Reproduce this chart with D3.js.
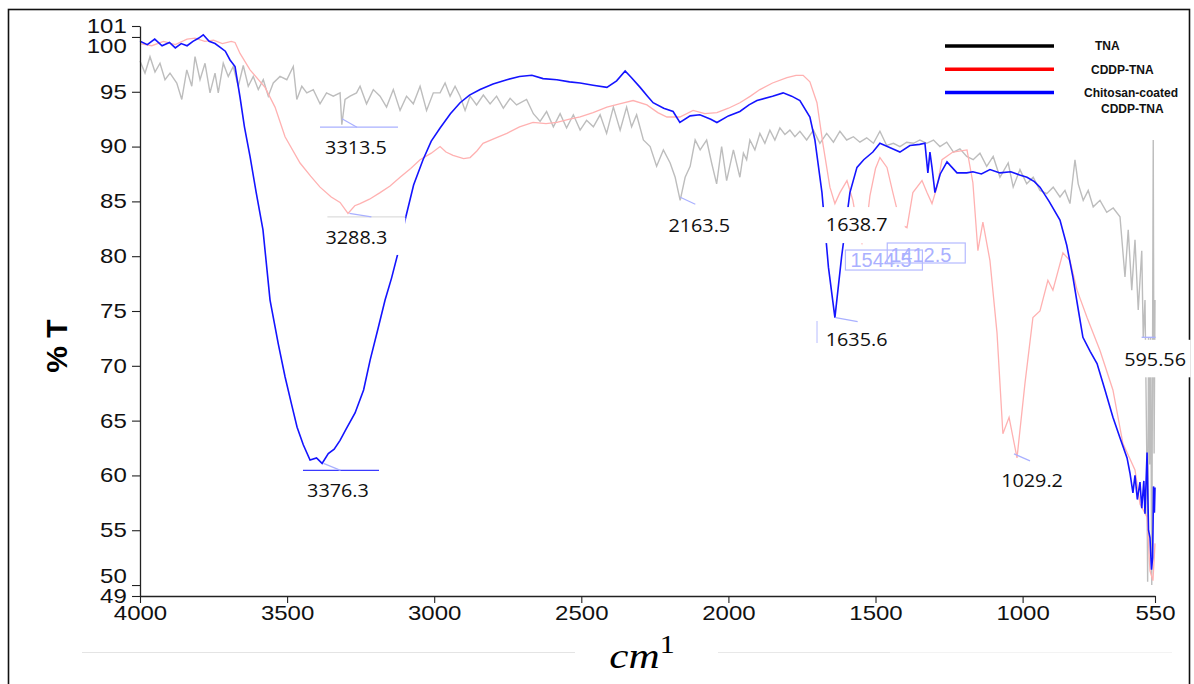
<!DOCTYPE html>
<html>
<head>
<meta charset="utf-8">
<script src="https://cdn.jsdelivr.net/npm/d3@7"></script>
<style>
  body { margin: 0; background: #fff; }
  svg { display: block; }
</style>
</head>
<body>
<div id="chart"></div>
<script>
// spectra: [wavenumber cm-1, %T]
const tna = [
  [4000,97.8],[3983,96.7],[3966,98.2],[3949,96.8],[3932,97.6],[3915,96.1],[3898,96.7],[3875,95.8],[3858,94.3],
  [3841,97.0],[3824,95.5],[3813,98.2],[3796,96.1],[3779,97.6],[3762,94.9],[3745,96.7],[3734,94.9],[3717,97.6],
  [3700,96.4],[3683,97.3],[3666,95.5],[3649,97.4],[3632,95.5],[3615,96.4],[3598,95.2],[3581,96.1],[3564,94.6],
  [3547,95.8],[3524,96.4],[3501,96.1],[3479,97.3],[3467,94.3],[3450,95.5],[3433,94.9],[3411,95.2],[3388,93.9],
  [3366,94.9],[3343,94.6],[3320,94.9],[3314,92.0],[3303,94.3],[3286,94.6],[3264,94.9],[3252,95.5],[3230,93.9],
  [3207,95.2],[3184,94.6],[3162,93.6],[3139,95.2],[3116,93.3],[3094,94.6],[3071,93.9],[3048,95.5],[3026,93.3],
  [3003,94.9],[2980,94.9],[2963,95.8],[2946,94.6],[2929,95.5],[2912,94.6],[2895,93.3],[2878,94.6],[2856,93.8],
  [2833,94.7],[2810,93.9],[2788,94.6],[2765,93.5],[2742,94.4],[2720,93.8],[2686,94.3],[2663,93.0],[2640,92.3],
  [2618,93.2],[2595,91.8],[2572,93.0],[2550,91.7],[2527,92.9],[2504,91.5],[2482,92.4],[2459,91.8],[2436,92.9],
  [2414,91.2],[2391,93.6],[2368,91.5],[2346,93.6],[2329,91.8],[2312,92.9],[2289,90.6],[2266,90.0],[2244,88.2],
  [2221,89.7],[2198,88.5],[2181,87.2],[2164,85.1],[2147,87.2],[2130,88.2],[2113,90.6],[2096,89.7],[2074,90.6],
  [2057,88.5],[2040,86.6],[2023,90.0],[2006,86.9],[1983,89.7],[1961,87.2],[1949,89.4],[1938,88.8],[1927,90.6],
  [1910,89.7],[1893,91.2],[1876,90.3],[1859,91.5],[1842,90.6],[1825,91.7],[1808,91.1],[1791,91.5],[1774,90.9],
  [1757,91.4],[1734,90.6],[1711,91.5],[1689,90.3],[1666,91.2],[1643,90.4],[1621,91.4],[1598,90.6],[1575,90.9],
  [1553,90.4],[1530,90.8],[1507,90.3],[1485,91.4],[1462,90.1],[1439,90.3],[1417,90.0],[1394,90.4],[1371,90.3],
  [1349,90.6],[1326,90.3],[1303,90.6],[1281,90.0],[1258,90.4],[1235,89.5],[1213,89.8],[1190,89.1],[1168,88.8],
  [1145,89.4],[1122,88.2],[1100,89.1],[1077,87.2],[1049,88.5],[1032,86.3],[1009,87.9],[986,86.6],[964,87.2],
  [941,86.0],[918,85.7],[896,86.3],[873,85.4],[856,86.0],[839,84.8],[822,88.8],[811,86.6],[794,85.1],[777,86.0],
  [760,84.5],[737,85.1],[714,84.0],[692,84.4],[669,83.6],[652,78.1],[641,82.4],[629,76.9],[618,81.5],[607,75.1],
  [595,80.5],[590,72.6],[584,76.0],[578,62.0],[575,50.3],[572,72.6],[568,61.0],[565,72.6],[561,50.0],[558,74.0],
  [556,90.6],[553,62.0],[550,76.0]
];

const cddpTna = [
  [4000,99.4],[3960,99.2],[3920,99.6],[3880,99.3],[3840,99.8],[3813,99.9],[3780,99.6],[3750,99.7],[3720,99.4],
  [3690,99.6],[3677,99.5],[3660,98.5],[3626,97.0],[3575,95.4],[3541,93.6],[3507,90.9],[3456,88.5],[3420,87.3],
  [3388,86.3],[3350,85.4],[3320,84.9],[3293,83.9],[3270,84.6],[3252,84.8],[3220,85.2],[3184,85.8],[3150,86.4],
  [3116,87.2],[3080,88.0],[3048,88.8],[3010,89.4],[2980,90.0],[2960,89.5],[2936,89.2],[2900,88.9],[2878,89.0],
  [2855,89.6],[2834,90.3],[2790,90.8],[2753,91.2],[2710,91.8],[2664,92.2],[2620,92.1],[2583,92.2],[2540,92.5],
  [2504,92.7],[2460,93.1],[2413,93.6],[2370,93.9],[2324,94.2],[2277,93.8],[2240,93.1],[2209,92.7],[2165,92.7],
  [2120,93.3],[2080,93.0],[2039,93.1],[2000,93.5],[1961,94.0],[1925,94.6],[1893,95.2],[1850,95.8],[1801,96.3],
  [1770,96.5],[1746,96.5],[1723,95.9],[1699,94.0],[1679,90.3],[1655,86.3],[1638,84.8],[1621,85.8],[1597,86.9],
  [1577,85.1],[1560,82.5],[1546,81.2],[1530,83.0],[1519,85.5],[1500,88.0],[1485,89.0],[1461,88.1],[1441,85.8],
  [1420,83.5],[1407,82.8],[1393,82.6],[1373,85.8],[1342,86.9],[1325,85.8],[1308,84.8],[1291,86.3],[1274,88.8],
  [1237,89.5],[1189,89.7],[1169,86.7],[1152,80.5],[1135,83.1],[1111,79.6],[1087,73.0],[1067,63.8],[1046,65.3],
  [1019,61.6],[992,68.4],[965,74.4],[941,75.0],[914,77.8],[897,76.9],[863,80.3],[839,79.6],[815,76.9],[781,74.4],
  [737,71.4],[693,67.8],[659,62.9],[618,60.5],[601,57.4],[577,56.2],[567,51.3],[557,50.4],[550,53.8]
];

const chitosanTna = [
  [4000,99.6],[3975,99.3],[3950,99.8],[3925,99.2],[3900,99.5],[3880,99.0],[3860,99.4],[3840,99.2],[3820,99.6],
  [3800,99.9],[3785,100.2],[3765,99.6],[3745,99.4],[3725,99.0],[3710,98.7],[3694,97.9],[3677,97.3],[3660,94.5],
  [3645,91.8],[3626,89.1],[3605,85.8],[3582,82.4],[3558,76.0],[3530,72.0],[3507,69.0],[3485,66.5],[3466,64.4],
  [3445,62.8],[3422,61.4],[3400,61.6],[3381,61.1],[3360,62.0],[3340,62.4],[3320,63.2],[3300,64.2],[3269,65.7],
  [3240,67.8],[3218,70.5],[3190,73.5],[3167,76.0],[3145,78.0],[3123,80.3],[3099,83.3],[3070,86.5],[3038,88.8],
  [3010,90.5],[2980,91.7],[2945,93.0],[2912,94.0],[2880,94.7],[2844,95.2],[2800,95.7],[2753,96.1],[2710,96.4],
  [2668,96.5],[2630,96.2],[2583,96.1],[2540,95.9],[2504,95.8],[2460,95.6],[2413,95.4],[2380,96.0],[2351,96.9],
  [2330,96.3],[2300,95.4],[2275,94.6],[2256,94.0],[2220,93.5],[2188,93.2],[2165,92.2],[2130,92.8],[2097,92.9],
  [2060,92.5],[2039,92.2],[2000,92.8],[1961,93.2],[1930,93.8],[1903,94.2],[1850,94.6],[1814,94.9],[1785,94.6],
  [1757,94.2],[1723,92.7],[1706,90.6],[1682,85.8],[1660,79.0],[1638,74.4],[1615,80.0],[1587,85.8],[1563,88.1],
  [1540,88.8],[1509,89.5],[1485,90.3],[1450,89.9],[1417,89.5],[1383,90.1],[1350,90.2],[1332,90.3],[1322,87.6],
  [1315,89.5],[1308,88.1],[1298,85.8],[1280,87.5],[1257,88.6],[1223,87.6],[1190,87.6],[1169,87.7],[1140,87.5],
  [1111,87.9],[1077,87.6],[1040,87.7],[1010,87.4],[985,87.2],[960,86.8],[941,86.3],[910,85.0],[873,83.3],
  [850,81.0],[829,78.1],[810,75.0],[795,72.6],[770,71.3],[747,70.2],[720,67.8],[693,65.3],[670,63.5],[645,61.6],
  [635,60.2],[625,58.4],[618,60.0],[610,57.8],[601,59.4],[595,57.0],[588,59.5],[584,56.5],[577,62.1],[572,55.0],
  [567,54.3],[562,51.4],[558,52.5],[555,59.0],[552,56.6],[550,58.9]
];

const xTicks = [4000, 3500, 3000, 2500, 2000, 1500, 1000, 550];
const yTicks = [101, 100, 95, 90, 85, 80, 75, 70, 65, 60, 55, 50, 49];
const legendNames = ["TNA", "CDDP-TNA", "Chitosan-coated|CDDP-TNA"];

// labelled peaks: label, wavenumber, %T at the marker
const peaks = [
  { label: "3313.5", w: 3313.5, t: 92.0 },
  { label: "3288.3", w: 3288.3, t: 83.9 },
  { label: "3376.3", w: 3376.3, t: 61.1 },
  { label: "2163.5", w: 2163.5, t: 85.1 },
  { label: "1638.7", w: 1638.7, t: 84.8 },
  { label: "1635.6", w: 1635.6, t: 74.4 },
  { label: "1544.5", w: 1544.5, t: 81.2 },
  { label: "1412.5", w: 1412.5, t: 82.8 },
  { label: "1029.2", w: 1029.2, t: 61.6 },
  { label: "595.56", w: 595.56, t: 72.6 }
];

const width = 1194, height = 684;
const svg = d3.select("#chart").append("svg")
  .attr("width", width)
  .attr("height", height);

const x = d3.scaleLinear().domain([4000, 550]).range([140, 1155]);
const y = d3.scaleLinear().domain([49, 101]).range([596, 26]);

// outer frame
svg.append("rect")
  .attr("x", 8.5).attr("y", 9.5)
  .attr("width", 1181).attr("height", 700)
  .attr("fill", "none").attr("stroke", "#111").attr("stroke-width", 1.6);

// faint rule under the plot
[[82, 575, "#e4e4e4"], [718, 890, "#e8e8e8"], [890, 1172, "#f3f3f3"]].forEach(s => {
  svg.append("line")
    .attr("x1", s[0]).attr("x2", s[1]).attr("y1", 652.5).attr("y2", 652.5)
    .attr("stroke", s[2]).attr("stroke-width", 1.2);
});

const line = d3.line().x(d => x(d[0])).y(d => y(d[1]));

svg.append("path").datum(tna).attr("d", line)
  .attr("fill", "none").attr("stroke", "#bdbdbd").attr("stroke-width", 1.4);
svg.append("path").datum(cddpTna).attr("d", line)
  .attr("fill", "none").attr("stroke", "#ffb1b1").attr("stroke-width", 1.3);
svg.append("path").datum(chitosanTna).attr("d", line)
  .attr("fill", "none").attr("stroke", "#1414ff").attr("stroke-width", 1.6);

// axes
const xAxis = d3.axisBottom(x).tickValues(xTicks).tickFormat(d3.format("d"))
  .tickSize(7).tickSizeOuter(0).tickPadding(3);
const yAxis = d3.axisLeft(y).tickValues(yTicks).tickFormat(d3.format("d"))
  .tickSize(8).tickSizeOuter(0).tickPadding(3);

const gx = svg.append("g").attr("transform", `translate(0,${y(49)})`).call(xAxis);
const gy = svg.append("g").attr("transform", `translate(${x(4000)},0)`).call(yAxis);

[gx, gy].forEach(g => {
  g.select(".domain").attr("stroke", "#222").attr("stroke-width", 1.3);
  g.selectAll(".tick line").attr("stroke", "#222").attr("stroke-width", 1.1);
  g.selectAll(".tick text")
    .attr("fill", "#111")
    .style("font-family", "'Liberation Sans', Arial, sans-serif")
    .style("font-size", "20px");
});
gx.selectAll(".tick text").attr("transform", "scale(1.2,1)");
// 100 and 50 labels are nudged away from the 101 / 49 labels
gy.selectAll(".tick text")
  .attr("transform", d => `translate(0,${d === 100 ? 9 : d === 50 ? -9 : 0}) scale(1.2,1)`);

// axis titles
svg.append("text")
  .attr("transform", "translate(56,346) rotate(-90)")
  .attr("text-anchor", "middle")
  .attr("dy", "0.35em")
  .style("font-family", "'Liberation Sans', Arial, sans-serif")
  .style("font-weight", "bold")
  .style("font-size", "30px")
  .text("% T");

const xt = svg.append("text")
  .attr("transform", "translate(642,668) scale(1.2,1)")
  .attr("text-anchor", "middle")
  .style("font-family", "'Liberation Serif', 'DejaVu Serif', serif")
  .style("font-size", "36px");
xt.append("tspan").style("font-style", "italic").text("cm");
xt.append("tspan").attr("dy", -15).style("font-size", "25px").text("1");

// legend
const legendColors = ["#000000", "#ff0000", "#0000ff"];
const legend = svg.append("g").attr("transform", "translate(945,46)");
legendNames.forEach((name, i) => {
  const ly = i * 23.3;
  legend.append("line")
    .attr("x1", 0).attr("x2", 109).attr("y1", ly).attr("y2", ly)
    .attr("stroke", legendColors[i]).attr("stroke-width", 3.5);
  const parts = name.split("|");
  const starts = [[150, 146, 139], [0, 0, 156]];
  parts.forEach((p, j) => {
    legend.append("text")
      .attr("x", starts[j][i]).attr("y", ly + j * 16.5)
      .attr("dy", "0.35em")
      .style("font-family", "'Liberation Sans', Arial, sans-serif")
      .style("font-weight", "bold")
      .style("font-size", "12px")
      .attr("fill", "#111")
      .text(p);
  });
});

// peak annotation layout (pixel offsets from the marked point)
const peakLayout = {
  "3313.5": { tx: 14, ty: 23, hline: [-22, 56, 2.5, "#a9b0ff"], lead: [0, -6, 15, 2.5] },
  "3288.3": { tx: 7, ty: 24, box: [-24, 56, 4.5, 41.5], hline: [-22, 56, 3.5, "#dddddd"], lead: [0, 0, 22, 3.5] },
  "3376.3": { tx: 14.5, ty: 27, hline: [-20.5, 55.5, 7, "#3a3aff"], lead: [0, 0, 17, 7] },
  "2163.5": { tx: 19, ty: 25, lead: [0, -3, 15, 4] },
  "1638.7": { tx: 22, ty: 21, box: [-18, 70, 3.5, 39.5] },
  "1635.6": { tx: 21, ty: 22, box: [-15, 60, 5, 40], lead: [0, 0, 22, 4], vline: [-18.6, 3.5, 25.5] },
  "1544.5": { outline: [-17, 60, 7, 27], ltx: -12, lty: 24 },
  "1412.5": { outline: [-14, 64, 17.5, 37.5], ltx: -11, lty: 36 },
  "1029.2": { tx: 18, ty: 23, lead: [0, -4, 16, 3] },
  "595.56": { tx: 13.5, ty: 22, box: [-21, 49, 2.5, 40], hline: [0, 14, 0, "#a9b0ff"] }
};

const ann = svg.append("g");
peaks.forEach(p => {
  const px = x(p.w), py = y(p.t);
  const L = peakLayout[p.label];
  if (L.box) {
    ann.append("rect")
      .attr("x", px + L.box[0]).attr("y", py + L.box[2])
      .attr("width", L.box[1] - L.box[0]).attr("height", L.box[3] - L.box[2])
      .attr("fill", "#fff");
  }
  if (L.hline) {
    ann.append("line")
      .attr("x1", px + L.hline[0]).attr("x2", px + L.hline[1])
      .attr("y1", py + L.hline[2]).attr("y2", py + L.hline[2])
      .attr("stroke", L.hline[3]).attr("stroke-width", 1.3);
  }
  if (L.lead) {
    ann.append("line")
      .attr("x1", px + L.lead[0]).attr("y1", py + L.lead[1])
      .attr("x2", px + L.lead[2]).attr("y2", py + L.lead[3])
      .attr("stroke", "#a9b0ff").attr("stroke-width", 1.2);
  }
  if (L.vline) {
    ann.append("line")
      .attr("x1", px + L.vline[0]).attr("x2", px + L.vline[0])
      .attr("y1", py + L.vline[1]).attr("y2", py + L.vline[2])
      .attr("stroke", "#c3c8ff").attr("stroke-width", 1.2);
  }
  if (L.outline) {
    ann.append("rect")
      .attr("x", px + L.outline[0]).attr("y", py + L.outline[2])
      .attr("width", L.outline[1] - L.outline[0]).attr("height", L.outline[3] - L.outline[2])
      .attr("fill", "none").attr("stroke", "#b4b9ff").attr("stroke-width", 1.2);
    ann.append("text")
      .attr("x", px + L.ltx).attr("y", py + L.lty)
      .style("font-family", "'Liberation Sans', Arial, sans-serif")
      .style("font-size", "20px")
      .attr("fill", "#aab0ff")
      .text(p.label);
  } else {
    ann.append("text")
      .attr("transform", `translate(${px + L.tx},${py + L.ty}) scale(1.1,1)`)
      .attr("text-anchor", "middle")
      .attr("dy", "0.35em")
      .style("font-family", "'Open Sans', 'Liberation Sans', sans-serif")
      .style("font-size", "18px")
      .attr("fill", "#111")
      .text(p.label);
  }
});
</script>
</body>
</html>
